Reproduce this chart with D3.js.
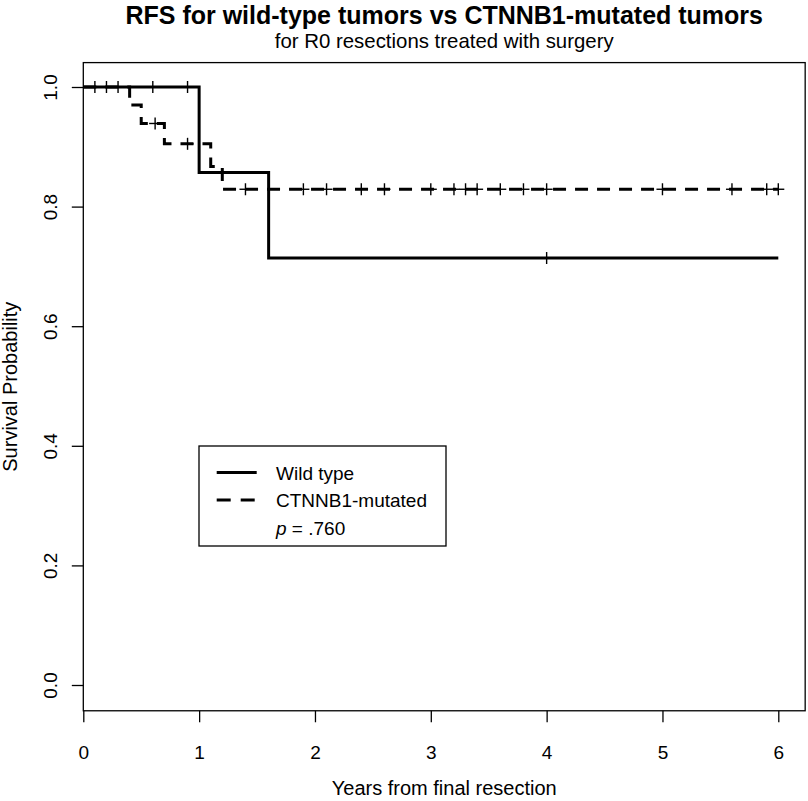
<!DOCTYPE html>
<html>
<head>
<meta charset="utf-8">
<script src="https://cdn.jsdelivr.net/npm/d3@7"></script>
<style>
  html, body { margin: 0; padding: 0; background: #ffffff; }
  svg { display: block; font-family: "Liberation Sans", Arial, Helvetica, sans-serif; }
</style>
</head>
<body>
<div id="chart"></div>
<script>
// ---- data ----
const titleText = "RFS for wild-type tumors vs CTNNB1-mutated tumors";
const subtitleText = "for R0 resections treated with surgery";
const xLabel = "Years from final resection";
const yLabel = "Survival Probability";

const xTicks = [0, 1, 2, 3, 4, 5, 6];
const yTicks = [0, 0.2, 0.4, 0.6, 0.8, 1.0];

// Wild type (solid)
const wtEventTimes = [1.0, 1.6];
const wtSurvival   = [0.857, 0.714];
const wtEnd = 6.0;
const wtCensorTimes = [0.1, 0.2, 0.3, 0.6, 0.9, 4.0];

// CTNNB1-mutated (dashed)
const mutEventTimes = [0.4, 0.5, 0.7, 1.1, 1.2];
const mutSurvival   = [0.970, 0.939, 0.905, 0.867, 0.829];
const mutEnd = 6.0;
const mutCensorTimes = [0.62, 0.9, 1.4, 1.9, 2.1, 2.4, 2.6, 3.0, 3.2, 3.3, 3.4, 3.6, 3.8, 4.0, 5.0, 5.6, 5.9, 6.0];

const legendLabels = ["Wild type", "CTNNB1-mutated"];
const pValueText = " = .760";

// ---- layout ----
const W = 808, H = 801;
const svg = d3.select("#chart").append("svg").attr("width", W).attr("height", H);

const x = d3.scaleLinear().domain([0, 6]).range([83.3, 778.3]);
const y = d3.scaleLinear().domain([0, 1]).range([685, 87]);

const boxLeft = x(0), boxRight = x(6.232);
const boxTop = y(1.0408), boxBottom = y(-0.0431);

function stepPoints(times, surv, end) {
  const pts = [[0, 1]];
  times.forEach((t, i) => pts.push([t, surv[i]]));
  pts.push([end, surv[surv.length - 1]]);
  return pts;
}
function survAt(times, surv, t) {
  let s = 1;
  times.forEach((et, i) => { if (et <= t) s = surv[i]; });
  return s;
}

const line = d3.line().x(d => x(d[0])).y(d => y(d[1])).curve(d3.curveStepAfter);

// curves
svg.append("path")
  .datum(stepPoints(wtEventTimes, wtSurvival, wtEnd))
  .attr("d", line).attr("fill", "none").attr("stroke", "#000")
  .attr("stroke-width", 3);

svg.append("path")
  .datum(stepPoints(mutEventTimes, mutSurvival, mutEnd))
  .attr("d", line).attr("fill", "none").attr("stroke", "#000")
  .attr("stroke-width", 3).attr("stroke-dasharray", "13,9");

// censor marks
function drawCensors(times, evT, surv) {
  const g = svg.append("g").attr("stroke", "#000").attr("stroke-width", 1.4);
  times.forEach(t => {
    const cx = x(t), cy = y(survAt(evT, surv, t));
    g.append("line").attr("x1", cx).attr("x2", cx).attr("y1", cy - 6).attr("y2", cy + 6);
    g.append("line").attr("x1", cx - 6).attr("x2", cx + 6).attr("y1", cy).attr("y2", cy);
  });
}
drawCensors(wtCensorTimes, wtEventTimes, wtSurvival);
drawCensors(mutCensorTimes, mutEventTimes, mutSurvival);

// box
svg.append("rect")
  .attr("x", boxLeft).attr("y", boxTop)
  .attr("width", boxRight - boxLeft).attr("height", boxBottom - boxTop)
  .attr("fill", "none").attr("stroke", "#000").attr("stroke-width", 1.3);

// x axis
const xAxis = svg.append("g")
  .attr("transform", `translate(0,${boxBottom})`)
  .call(d3.axisBottom(x).tickValues(xTicks).tickFormat(d3.format("d")).tickSize(11.5).tickPadding(23.3));
xAxis.select(".domain").remove();
xAxis.selectAll("line").attr("stroke", "#000").attr("stroke-width", 1.3);
xAxis.selectAll("text").attr("font-size", 19).attr("fill", "#000")
  .attr("font-family", "'Liberation Sans', Arial, sans-serif");

// y axis
const yAxis = svg.append("g")
  .attr("transform", `translate(${boxLeft},0)`)
  .call(d3.axisLeft(y).tickValues(yTicks).tickFormat(d3.format(".1f")).tickSize(11.5));
yAxis.select(".domain").remove();
yAxis.selectAll("line").attr("stroke", "#000").attr("stroke-width", 1.3);
yAxis.selectAll("text")
  .attr("x", null).attr("dy", null)
  .attr("transform", "translate(-26.3,0) rotate(-90)")
  .attr("text-anchor", "middle")
  .attr("font-size", 19).attr("fill", "#000")
  .attr("font-family", "'Liberation Sans', Arial, sans-serif");

// axis titles
const cx = (boxLeft + boxRight) / 2;
const cy = (boxTop + boxBottom) / 2;
svg.append("text").attr("x", cx).attr("y", 795).attr("text-anchor", "middle")
  .attr("font-size", 20).text(xLabel);
svg.append("text").attr("transform", `translate(17,${cy}) rotate(-90)`)
  .attr("text-anchor", "middle").attr("font-size", 20).text(yLabel);

// titles
svg.append("text").attr("x", cx).attr("y", 24).attr("text-anchor", "middle")
  .attr("font-size", 25).attr("font-weight", "bold").text(titleText);
svg.append("text").attr("x", cx).attr("y", 48).attr("text-anchor", "middle")
  .attr("font-size", 20.4).text(subtitleText);

// legend
const lg = svg.append("g");
lg.append("rect").attr("x", 199).attr("y", 446).attr("width", 247).attr("height", 100)
  .attr("fill", "#fff").attr("stroke", "#000").attr("stroke-width", 1.3);
const rowY = [472.5, 500];
lg.append("line").attr("x1", 216.7).attr("x2", 256.7).attr("y1", rowY[0]).attr("y2", rowY[0])
  .attr("stroke", "#000").attr("stroke-width", 3);
lg.append("line").attr("x1", 216.7).attr("x2", 256.7).attr("y1", rowY[1]).attr("y2", rowY[1])
  .attr("stroke", "#000").attr("stroke-width", 3).attr("stroke-dasharray", "14,10");
legendLabels.forEach((lab, i) => {
  lg.append("text").attr("x", 276).attr("y", rowY[i] + 7).attr("font-size", 19).text(lab);
});
const pt = lg.append("text").attr("x", 276).attr("y", 534.5).attr("font-size", 19);
pt.append("tspan").attr("font-style", "italic").text("p");
pt.append("tspan").text(pValueText);
</script>
</body>
</html>
